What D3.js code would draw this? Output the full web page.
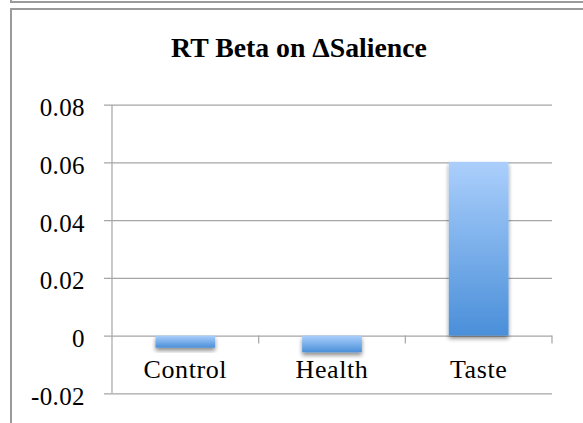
<!DOCTYPE html>
<html>
<head>
<meta charset="utf-8">
<script src="https://cdn.jsdelivr.net/npm/d3@7"></script>
<style>
  html, body { margin: 0; padding: 0; background: #fff; }
  svg { display: block; }
  text { font-family: "Liberation Serif", "Times New Roman", serif; fill: #000; }
</style>
</head>
<body>
<svg id="chart" width="583" height="423"></svg>
<script>
// Regression betas of response time on change in salience, by condition
const categories = ["Control", "Health", "Taste"];
const betas = [-0.0042, -0.0058, 0.0602];
const yTicks = [-0.02, 0, 0.02, 0.04, 0.06, 0.08];
const yTickLabels = ["-0.02", "0", "0.02", "0.04", "0.06", "0.08"];
const title = "RT Beta on \u0394Salience";

const W = 583, H = 423;
const plot = { left: 112, right: 552, top: 104.7, bottom: 393.3 };

const svg = d3.select("#chart");

// gradient fill and soft drop shadow for the bars
const defs = svg.append("defs");
const grad = defs.append("linearGradient")
  .attr("id", "barFill").attr("x1", 0).attr("y1", 0).attr("x2", 0).attr("y2", 1);
grad.append("stop").attr("offset", "0%").attr("stop-color", "#abcffc");
grad.append("stop").attr("offset", "100%").attr("stop-color", "#4a8fd9");

const shadow = defs.append("filter").attr("id", "barShadow")
  .attr("x", "-20%").attr("y", "-20%").attr("width", "140%").attr("height", "160%");
shadow.append("feGaussianBlur").attr("in", "SourceAlpha").attr("stdDeviation", 2.2).attr("result", "blur");
shadow.append("feOffset").attr("in", "blur").attr("dx", 0).attr("dy", 3).attr("result", "off");
shadow.append("feComponentTransfer").attr("in", "off").attr("result", "soft")
  .append("feFuncA").attr("type", "linear").attr("slope", 0.45);
const merge = shadow.append("feMerge");
merge.append("feMergeNode").attr("in", "soft");
merge.append("feMergeNode").attr("in", "SourceGraphic");

// outer frames
const frameColor = "#9a9a9a";
svg.append("line").attr("x1", 11).attr("x2", W).attr("y1", 2).attr("y2", 2)
  .attr("stroke", frameColor).attr("stroke-width", 2);
svg.append("line").attr("x1", 11).attr("x2", 11).attr("y1", 0).attr("y2", 3)
  .attr("stroke", frameColor).attr("stroke-width", 2);
svg.append("line").attr("x1", 10).attr("x2", W).attr("y1", 9).attr("y2", 9)
  .attr("stroke", frameColor).attr("stroke-width", 2);
svg.append("line").attr("x1", 11).attr("x2", 11).attr("y1", 8).attr("y2", H)
  .attr("stroke", frameColor).attr("stroke-width", 2);

// scales
const y = d3.scaleLinear().domain([yTicks[0], yTicks[yTicks.length - 1]])
  .range([plot.bottom, plot.top]);
const x = d3.scaleBand().domain(categories).range([plot.left, plot.right])
  .paddingInner(0.593).paddingOuter(0.2965);
const xEdges = d3.scalePoint().domain(d3.range(categories.length + 1))
  .range([plot.left, plot.right]);

const gridColor = "#a6a6a6";

// horizontal gridlines with left tick marks
const yAxis = d3.axisLeft(y).tickValues(yTicks)
  .tickFormat((d, i) => yTickLabels[i])
  .tickSize(-(plot.right - plot.left)).tickSizeOuter(0).tickPadding(27);
const gy = svg.append("g").attr("transform", `translate(${plot.left},0)`).call(yAxis);
gy.select(".domain").remove();
gy.selectAll(".tick line").attr("stroke", gridColor).attr("stroke-width", 1.2)
  .attr("x1", -8);
gy.selectAll(".tick text").attr("font-size", 25).attr("dy", 11)
  .attr("font-family", "Liberation Serif, serif").attr("fill", "#000")
  .attr("letter-spacing", 0.4);

// vertical axis line
svg.append("line").attr("x1", plot.left).attr("x2", plot.left)
  .attr("y1", plot.top).attr("y2", plot.bottom)
  .attr("stroke", gridColor).attr("stroke-width", 1.2);

// category tick marks along the zero line
const zeroY = y(0);
svg.append("g").selectAll("line")
  .data(d3.range(1, categories.length + 1))
  .join("line")
  .attr("x1", d => xEdges(d)).attr("x2", d => xEdges(d))
  .attr("y1", zeroY).attr("y2", zeroY + 8)
  .attr("stroke", gridColor).attr("stroke-width", 1.2);

// bars
svg.append("g").selectAll("rect")
  .data(categories.map((c, i) => ({ c, v: betas[i] })))
  .join("rect")
  .attr("x", d => x(d.c))
  .attr("width", x.bandwidth())
  .attr("y", d => y(Math.max(0, d.v)))
  .attr("height", d => Math.abs(y(d.v) - y(0)))
  .attr("fill", "url(#barFill)")
  .attr("filter", "url(#barShadow)");

// category labels
svg.append("g").selectAll("text")
  .data(categories)
  .join("text")
  .attr("x", d => x(d) + x.bandwidth() / 2)
  .attr("y", 378)
  .attr("text-anchor", "middle")
  .attr("font-size", 26)
  .attr("letter-spacing", 0.6)
  .text(d => d);

// title, sized so it spans about 256px
const titleText = svg.append("text")
  .attr("x", 299).attr("y", 57)
  .attr("text-anchor", "middle")
  .attr("font-family", "DejaVu Serif, serif")
  .attr("font-size", 20).attr("font-weight", "bold")
  .text(title);
const tw = titleText.node().getComputedTextLength();
if (tw > 0) titleText.attr("font-size", 20 * 256 / tw);
</script>
</body>
</html>
